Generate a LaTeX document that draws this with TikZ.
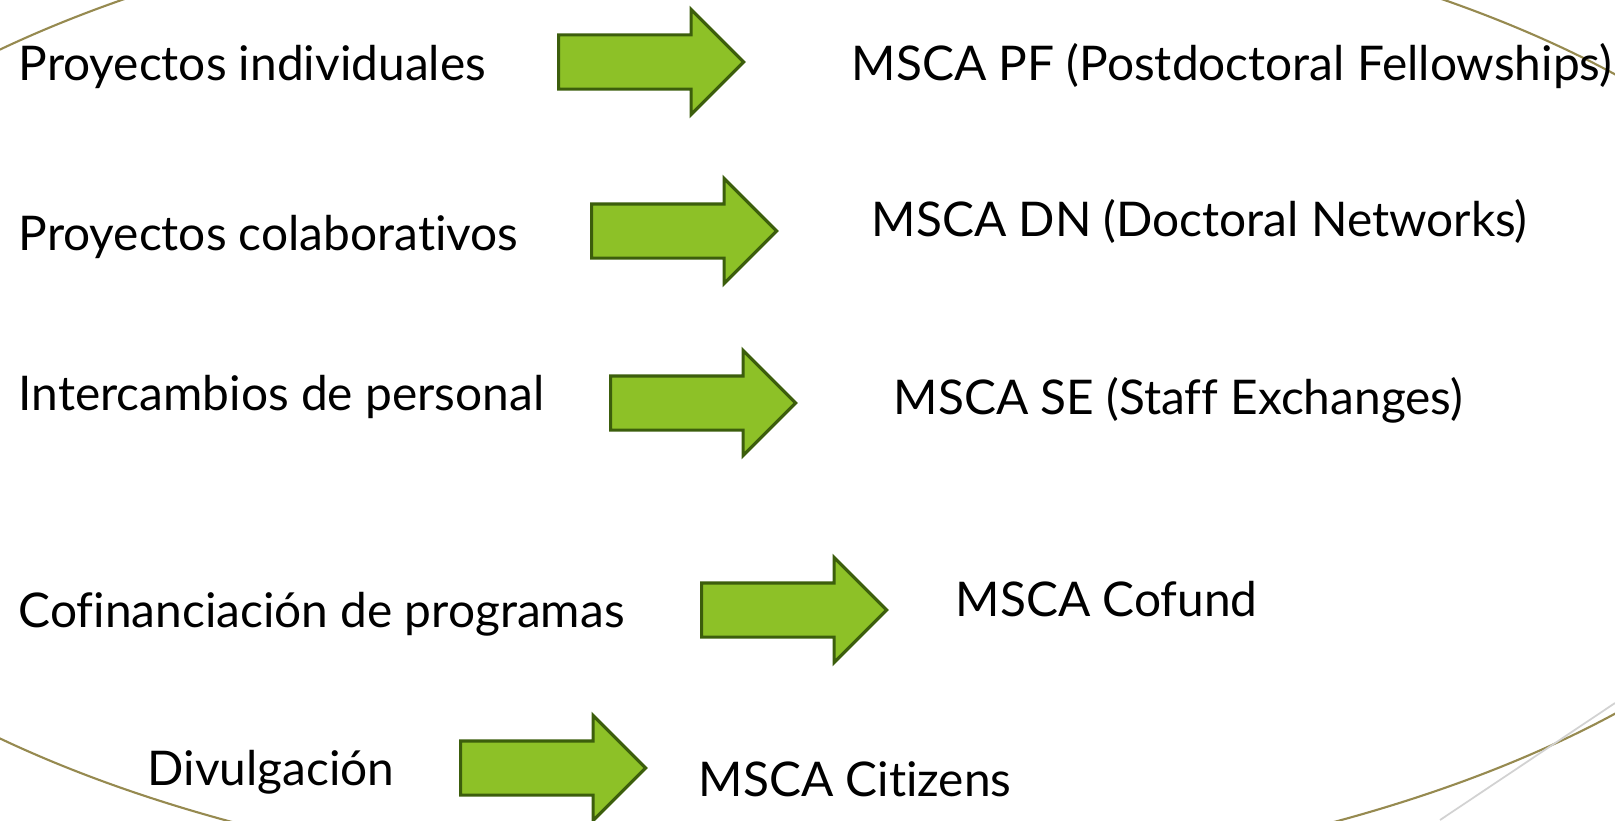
\documentclass[tikz,border=0pt]{standalone}
\usepackage{fontspec}
\setmainfont[Ligatures=NoCommon]{Lato}
\usetikzlibrary{shapes.arrows}
\definecolor{arrowfill}{RGB}{141,193,39}
\definecolor{arrowline}{RGB}{60,94,12}
\definecolor{olive}{RGB}{150,138,80}
\begin{document}
\begin{tikzpicture}[x=0.01cm,y=-0.01cm,
  lbl/.style={anchor=base west,inner sep=0pt,font=\fontsize{13.6pt}{16pt}\selectfont},
  bigarrow/.style={single arrow,anchor=tail,fill=arrowfill,draw=arrowline,line width=0.9pt,
    inner xsep=0pt,inner ysep=0.255cm,minimum height=1.85cm,single arrow head extend=0.255cm}]
\path[use as bounding box,clip] (0,0) rectangle (1615,820);
\draw[olive,line width=0.6pt] (783,394) ellipse [x radius=10.87cm,y radius=4.96cm];
\draw[gray!35,line width=0.5pt] (1440,820) -- (1615,703);

\node[lbl] (p1) at (18,80) {Proyectos individuales};
\node[lbl] (p2) at (18,250) {Proyectos colaborativos};
\node[lbl] (p3) at (18,410) {Intercambios de personal};
\node[lbl] (p4) at (18,627) {Cofinanciación de programas};
\node[lbl] (p5) at (147,785) {Divulgación};

\node[bigarrow] (a1) at (557,62) {};
\node[bigarrow] (a2) at (590,231) {};
\node[bigarrow] (a3) at (609,403) {};
\node[bigarrow] (a4) at (700,610) {};
\node[bigarrow] (a5) at (459,768) {};

\node[lbl] (m1) at (851,80) {MSCA PF (Postdoctoral Fellowships)};
\node[lbl] (m2) at (871,236) {MSCA DN (Doctoral Networks)};
\node[lbl] (m3) at (893,414) {MSCA SE (Staff Exchanges)};
\node[lbl] (m4) at (955,616) {MSCA Cofund};
\node[lbl] (m5) at (698,796) {MSCA Citizens};
\end{tikzpicture}
\end{document}
